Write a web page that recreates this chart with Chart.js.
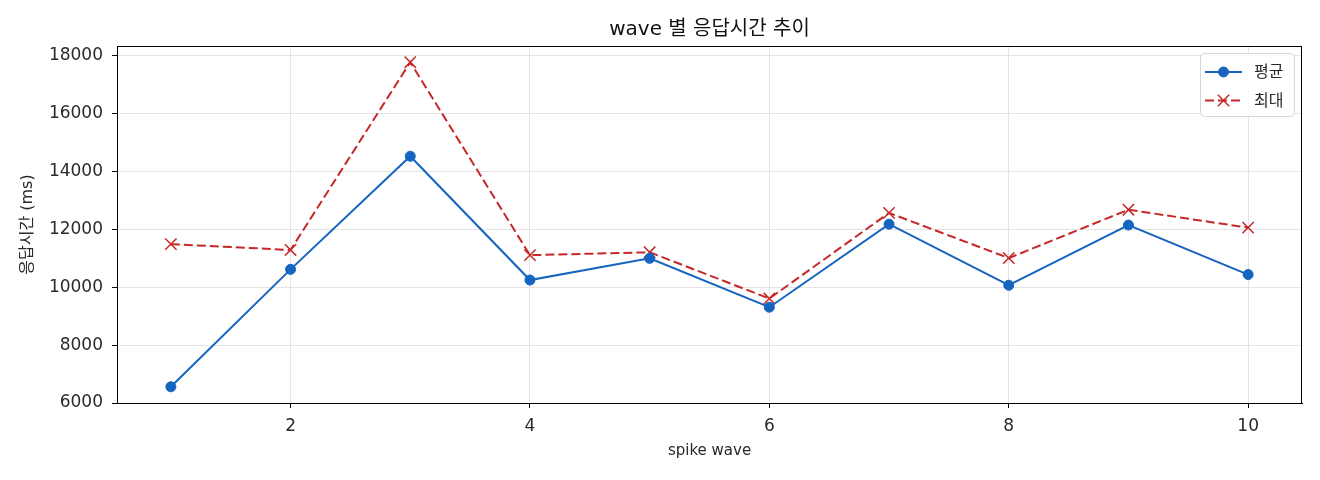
<!DOCTYPE html>
<html>
<head>
<meta charset="utf-8">
<script src="https://cdn.jsdelivr.net/npm/chart.js@4"></script>
<style>
  html, body { margin: 0; padding: 0; background: #fff; }
  #wrap { width: 1320px; height: 480px; }
</style>
</head>
<body>
<div id="wrap"><canvas id="myChart" width="1320" height="480"></canvas></div>
<script>
// data
const waves = [1, 2, 3, 4, 5, 6, 7, 8, 9, 10];
const avgMs = [6560, 10620, 14530, 10250, 11000, 9310, 12180, 10070, 12150, 10440];
const maxMs = [11490, 11290, 17780, 11110, 11210, 9610, 12570, 11010, 12680, 12060];
const seriesNames = ["평균", "최대"];
const xTicks = [2, 4, 6, 8, 10];
const yTicks = [6000, 8000, 10000, 12000, 14000, 16000, 18000];

const FONT = '"DejaVu Sans", "Noto Sans CJK KR", sans-serif';
const BLUE = "#1565c0";
const RED = "#c62828";
const TEXT = "#2a2a2a";

Chart.defaults.font.family = FONT;
Chart.defaults.color = TEXT;

// top/right spines + legend drawn inside the plot, matplotlib style
const framePlugin = {
  id: "frame",
  afterDatasetsDraw(chart) {
    const { ctx, chartArea: a } = chart;
    ctx.save();
    ctx.strokeStyle = "#000";
    ctx.lineWidth = 1;
    ctx.strokeRect(Math.round(a.left) + 0.5, Math.round(a.top) + 0.5,
      Math.round(a.right - a.left) - 1, Math.round(a.bottom - a.top));
    ctx.restore();
  },
  afterDraw(chart) {
    const { ctx } = chart;
    const bx = 1200, by = 53, bw = 94, bh = 63;
    ctx.save();
    ctx.beginPath();
    ctx.roundRect(bx + 0.5, by + 0.5, bw, bh, 4);
    ctx.fillStyle = "rgba(255,255,255,0.85)";
    ctx.fill();
    ctx.strokeStyle = "#d6d6d6";
    ctx.lineWidth = 1;
    ctx.stroke();

    chart.data.datasets.forEach((ds, i) => {
      const y = 72 + i * 28.5;
      ctx.strokeStyle = ds.borderColor;
      ctx.lineWidth = ds.borderWidth;
      ctx.setLineDash(ds.borderDash || []);
      ctx.beginPath();
      ctx.moveTo(1205, y);
      ctx.lineTo(1242, y);
      ctx.stroke();
      ctx.setLineDash([]);
      ctx.fillStyle = ds.borderColor;
      ctx.strokeStyle = ds.borderColor;
      ctx.lineWidth = ds.pointBorderWidth;
      Chart.helpers.drawPoint(ctx, {
        pointStyle: ds.pointStyle,
        radius: ds.pointRadius,
        borderWidth: ds.pointBorderWidth
      }, 1223.5, y);
      ctx.fillStyle = TEXT;
      ctx.font = "16px " + FONT;
      ctx.textBaseline = "middle";
      ctx.textAlign = "left";
      ctx.fillText(ds.label, 1254, y + 1);
    });
    ctx.restore();
  }
};

const toPts = (ys) => waves.map((w, i) => ({ x: w, y: ys[i] }));

new Chart(document.getElementById("myChart"), {
  type: "line",
  data: {
    datasets: [
      {
        label: seriesNames[0],
        data: toPts(avgMs),
        borderColor: BLUE,
        backgroundColor: BLUE,
        borderWidth: 2,
        pointStyle: "circle",
        pointRadius: 5,
        pointBorderWidth: 1,
        pointBackgroundColor: BLUE,
        pointBorderColor: BLUE,
        tension: 0
      },
      {
        label: seriesNames[1],
        data: toPts(maxMs),
        borderColor: RED,
        backgroundColor: RED,
        borderWidth: 2,
        borderDash: [9, 4],
        pointStyle: "crossRot",
        pointRadius: 8,
        pointBorderWidth: 1.5,
        pointBorderColor: RED,
        tension: 0
      }
    ]
  },
  options: {
    responsive: false,
    animation: false,
    layout: { padding: { left: 0, right: 18, top: 0, bottom: 0 } },
    plugins: {
      legend: { display: false },
      tooltip: { enabled: false },
      title: {
        display: true,
        text: "wave 별 응답시간 추이",
        fullSize: false,
        color: "#111",
        font: { size: 20, weight: "normal", lineHeight: 1.2 },
        padding: { top: 18, bottom: 4 }
      }
    },
    scales: {
      x: {
        type: "linear",
        min: 0.55,
        max: 10.45,
        afterFit(scale) { scale.height = 77; },
        afterBuildTicks(scale) {
          scale.ticks = xTicks.map((v) => ({ value: v }));
        },
        grid: {
          color: "#e4e4e4",
          tickColor: "#000",
          tickLength: 5,
          lineWidth: 1
        },
        border: { display: true, color: "#000", width: 1 },
        ticks: { font: { size: 17 }, color: TEXT, padding: 8, maxRotation: 0 },
        title: {
          display: true,
          text: "spike wave",
          color: TEXT,
          font: { size: 15, lineHeight: 1.2 },
          padding: { top: 0, bottom: 20 }
        }
      },
      y: {
        type: "linear",
        min: 6000,
        max: 18340,
        afterFit(scale) { scale.width = 117; },
        afterBuildTicks(scale) {
          scale.ticks = yTicks.map((v) => ({ value: v }));
        },
        grid: {
          color: "#e4e4e4",
          tickColor: "#000",
          tickLength: 5,
          lineWidth: 1
        },
        border: { display: true, color: "#000", width: 1 },
        ticks: {
          font: { size: 17 },
          color: TEXT,
          padding: 9,
          callback: (v) => String(v)
        },
        title: {
          display: true,
          text: "응답시간 (ms)",
          color: TEXT,
          font: { size: 16, lineHeight: 1.2 },
          padding: { top: 18, bottom: 0 }
        }
      }
    }
  },
  plugins: [framePlugin]
});
</script>
</body>
</html>
